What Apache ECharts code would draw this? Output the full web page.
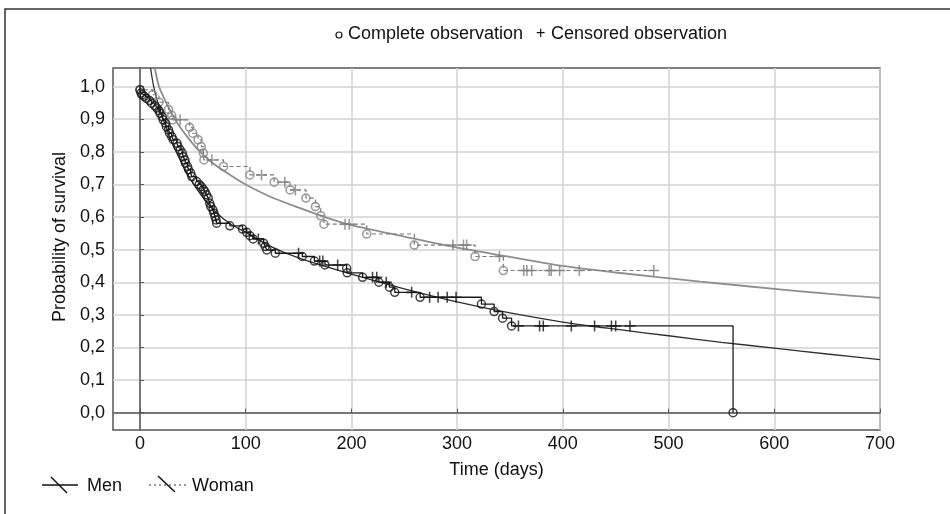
<!DOCTYPE html>
<html><head><meta charset="utf-8">
<script src="https://cdn.jsdelivr.net/npm/echarts@6/dist/echarts.min.js"></script>
<style>html,body{margin:0;padding:0;background:#fff}#c{width:950px;height:514px}</style>
</head><body><div id="c"></div>
<script>
const FONT = '"Liberation Sans Narrow","Liberation Sans",Arial,sans-serif';
const FS = 18;

const xTicks = [0, 100, 200, 300, 400, 500, 600, 700];
const yTicks = [0, 0.1, 0.2, 0.3, 0.4, 0.5, 0.6, 0.7, 0.8, 0.9, 1.0];

// Kaplan-Meier, men: complete observations [day, survival]
const menEvents = [
  [0,0.99],[1,0.98],[2,0.975],[4,0.97],[6,0.964],[9,0.957],[11,0.949],[14,0.941],[16,0.934],[18,0.926],
  [19,0.918],[21,0.908],[22,0.898],[24,0.888],[25,0.877],[27,0.867],[28,0.857],[30,0.847],[31.5,0.837],
  [35,0.826],[36,0.816],[38,0.806],[40,0.796],[41,0.785],[42.5,0.775],[43,0.765],[45,0.755],[46,0.745],
  [48,0.735],[49,0.724],[53.6,0.709],[56,0.70],[58,0.693],[60,0.685],[61.5,0.678],[63,0.668],[64.6,0.658],
  [66,0.642],[67,0.632],[69,0.622],[70,0.612],[71,0.601],[72,0.591],[72.5,0.581],[85,0.573],[97,0.563],
  [101,0.553],[104,0.543],[107,0.533],[117,0.52],[118.5,0.51],[120,0.499],[128,0.489],[153.5,0.479],
  [165,0.465],[175,0.453],[195.5,0.443],[196,0.429],[210.6,0.415],[226,0.40],[236,0.385],[241,0.369],
  [265,0.354],[323,0.333],[335,0.31],[343,0.29],[351.5,0.266],[561,0.0]
];
// men: censored observations
const menCensored = [
  [112,0.533],[150,0.489],[170,0.465],[173,0.465],[187,0.453],[220,0.415],[224,0.415],[233,0.40],
  [257,0.369],[274,0.354],[282,0.354],[290.6,0.354],[299,0.354],[358,0.266],[378,0.266],[381.5,0.266],
  [408,0.266],[430,0.266],[446,0.266],[450,0.266],[463.5,0.266]
];
// Kaplan-Meier, woman: complete observations
const womanEvents = [
  [0,0.99],[12,0.975],[18,0.952],[27,0.93],[30,0.912],[31,0.898],[47,0.875],[50,0.857],[55,0.837],
  [58,0.816],[60,0.796],[60.5,0.775],[79,0.755],[104,0.729],[127,0.707],[142,0.683],[157,0.658],
  [166,0.632],[171,0.604],[174,0.578],[214.5,0.548],[259.5,0.514],[317,0.479],[343.7,0.436]
];
// woman: censored observations
const womanCensored = [
  [38,0.898],[68,0.775],[115,0.729],[137,0.707],[147,0.683],[194,0.578],[198,0.578],[296,0.514],
  [306,0.514],[309,0.514],[340,0.479],[363,0.436],[366,0.436],[370.5,0.436],[387,0.436],[389,0.436],
  [397,0.436],[415.6,0.436],[486,0.436]
];
// fitted curves
const menFit = [
  [10,1.057],[13,1.0],[17,0.95],[22,0.9],[30,0.83],[38,0.775],[46,0.725],[54,0.685],[62,0.65],
  [71,0.617],[85,0.58],[100,0.553],[125,0.508],[150,0.475],[200,0.425],[250,0.38],[300,0.34],
  [350,0.306],[400,0.278],[450,0.256],[500,0.236],[550,0.216],[600,0.198],[650,0.18],[700,0.163]
];
const womanFit = [
  [14,1.057],[18,1.0],[22,0.97],[28,0.93],[35,0.89],[45,0.845],[54,0.81],[69,0.765],[85,0.73],
  [100,0.70],[125,0.66],[151,0.628],[175,0.6],[199,0.576],[250,0.54],[300,0.506],[350,0.478],
  [400,0.45],[450,0.43],[530,0.402],[600,0.38],[650,0.365],[700,0.352]
];

const menLine = [[0,1.0]].concat(menEvents);
const womanLine = [[0,1.0]].concat(womanEvents, [womanCensored[womanCensored.length-1]]);

const PLUS = 'path://M4.3,0H5.7V10H4.3Z M0,4.3H10V5.7H0Z';

const chart = echarts.init(document.getElementById('c'), null, {renderer:'canvas'});
chart.setOption({
  animation:false,
  backgroundColor:'#fff',
  grid:{left:113, right:70, top:68, bottom:84, show:true, borderColor:'#555', borderWidth:1.5, backgroundColor:'#fff'},
  xAxis:{
    type:'value', min:-25.5, max:700,
    name:'Time (days)', nameLocation:'middle', nameGap:31,
    nameTextStyle:{fontFamily:FONT, fontSize:FS, color:'#111', verticalAlign:'top'},
    axisLine:{show:true, lineStyle:{color:'#555', width:1.5}},
    axisTick:{show:true, inside:true, length:4, customValues:xTicks, lineStyle:{color:'#555'}},
    axisLabel:{customValues:xTicks, margin:5, fontFamily:FONT, fontSize:FS, color:'#111'},
    splitLine:{show:true, lineStyle:{color:'#d2d2d2', width:1.5}}
  },
  yAxis:{
    type:'value', min:-0.053, max:1.057,
    name:'Probability of survival', nameLocation:'middle', nameGap:40, nameRotate:90,
    nameTextStyle:{fontFamily:FONT, fontSize:FS, color:'#111', padding:[0,0,0,24]},
    axisLine:{show:true, lineStyle:{color:'#555', width:1.5}},
    axisTick:{show:true, inside:true, length:4, customValues:yTicks, lineStyle:{color:'#555'}},
    axisLabel:{customValues:yTicks, margin:8, fontFamily:FONT, fontSize:FS, color:'#111',
      formatter:v=>v.toFixed(1).replace('.',',')},
    splitLine:{show:true, lineStyle:{color:'#d2d2d2', width:1.5}}
  },
  series:[
    {name:'Woman fit', type:'line', data:womanFit, smooth:0.3, showSymbol:false, clip:true,
      lineStyle:{color:'#8e8e8e', width:1.8}, z:2},
    {name:'Men fit', type:'line', data:menFit, smooth:0.3, showSymbol:false, clip:true,
      lineStyle:{color:'#2e2e2e', width:1.3}, z:2},
    {name:'Woman', type:'line', step:'end', data:womanLine, showSymbol:false, clip:true,
      lineStyle:{color:'#7a7a7a', width:1.2, type:[4,3]}, z:3},
    {name:'Men', type:'line', step:'end', data:menLine, showSymbol:false, clip:true,
      lineStyle:{color:'#1a1a1a', width:1.3}, z:3},
    {name:'Woman complete', type:'scatter', data:womanEvents, symbol:'circle', symbolSize:8,
      itemStyle:{color:'rgba(255,255,255,0)', borderColor:'#858585', borderWidth:1.6}, z:4},
    {name:'Woman censored', type:'scatter', data:womanCensored, symbol:PLUS, symbolSize:11,
      itemStyle:{color:'#7d7d7d'}, z:4},
    {name:'Men complete', type:'scatter', data:menEvents, symbol:'circle', symbolSize:8,
      itemStyle:{color:'rgba(255,255,255,0)', borderColor:'#151515', borderWidth:1.5}, z:5},
    {name:'Men censored', type:'scatter', data:menCensored, symbol:PLUS, symbolSize:11,
      itemStyle:{color:'#151515'}, z:5}
  ],
  graphic:[
    {type:'rect', shape:{x:5, y:9, width:980, height:540}, style:{fill:'none', stroke:'#333', lineWidth:1.5}, silent:true, z:-1},
    {type:'circle', shape:{cx:339, cy:35, r:3}, style:{fill:'none', stroke:'#111', lineWidth:1.2}},
    {type:'text', style:{text:'Complete observation', x:348, y:34, fontFamily:FONT, fontSize:FS, fill:'#111', textVerticalAlign:'middle'}},
    {type:'text', style:{text:'+', x:536, y:34, fontFamily:FONT, fontSize:16, fill:'#111', textVerticalAlign:'middle'}},
    {type:'text', style:{text:'Censored observation', x:551, y:34, fontFamily:FONT, fontSize:FS, fill:'#111', textVerticalAlign:'middle'}},
    {type:'line', shape:{x1:42, y1:485, x2:78, y2:485}, style:{stroke:'#111', lineWidth:1.5}},
    {type:'line', shape:{x1:51, y1:477, x2:67, y2:493}, style:{stroke:'#111', lineWidth:1.5}},
    {type:'text', style:{text:'Men', x:87, y:486, fontFamily:FONT, fontSize:FS, fill:'#111', textVerticalAlign:'middle'}},
    {type:'line', shape:{x1:149, y1:485, x2:186, y2:485}, style:{stroke:'#333', lineWidth:1.2, lineDash:[2,3]}},
    {type:'line', shape:{x1:158, y1:476, x2:175, y2:492}, style:{stroke:'#111', lineWidth:1.5}},
    {type:'text', style:{text:'Woman', x:192, y:486, fontFamily:FONT, fontSize:FS, fill:'#111', textVerticalAlign:'middle'}}
  ]
});
</script>
</body></html>
